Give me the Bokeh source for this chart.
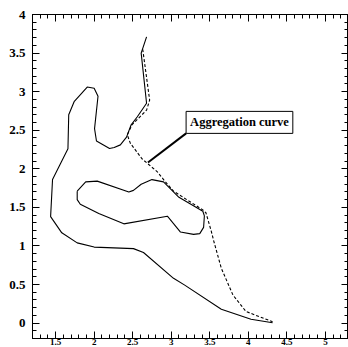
from bokeh.plotting import figure
from bokeh.models import LinearAxis, SingleIntervalTicker, CustomJSTickFormatter, Label, CustomLabelingPolicy
from bokeh.embed import file_html
from bokeh.resources import INLINE

# ---- data ----
outer_x = [2.68, 2.61, 2.68, 2.56, 2.48, 2.42, 2.34, 2.26, 2.20, 2.03, 2.005, 2.05, 2.00, 1.91,
           1.74, 1.67, 1.66, 1.52, 1.46, 1.435, 1.58, 1.78, 2.00, 2.51, 2.64, 3.03, 3.17, 3.65,
           4.035, 4.315]
outer_y = [3.71, 3.50, 2.85, 2.675, 2.57, 2.41, 2.31, 2.276, 2.263, 2.36, 2.52, 2.94, 3.045, 3.06,
           2.87, 2.70, 2.26, 1.98, 1.86, 1.38, 1.17, 1.04, 0.985, 0.965, 0.915, 0.58, 0.495, 0.18,
           0.05, 0.005]

inner_x = [1.78, 1.89, 2.04, 2.45, 2.51, 2.61, 2.75, 2.90, 3.10, 3.41, 3.43, 3.42, 3.37, 3.29,
           3.12, 3.03, 2.95, 2.385, 2.06, 1.82, 1.78, 1.78]
inner_y = [1.71, 1.83, 1.84, 1.70, 1.72, 1.80, 1.86, 1.83, 1.63, 1.45, 1.39, 1.24, 1.16, 1.15,
           1.18, 1.29, 1.385, 1.286, 1.42, 1.54, 1.60, 1.71]

aggr_x = [2.63, 2.72, 2.68, 2.49, 2.43, 2.47, 2.62, 2.82, 2.925, 3.03, 3.42, 3.45, 3.52, 3.55,
          3.65, 3.80, 3.97, 4.315]
aggr_y = [3.55, 2.89, 2.76, 2.57, 2.44, 2.33, 2.13, 1.96, 1.83, 1.71, 1.46, 1.43, 1.19, 1.07,
          0.71, 0.365, 0.15, 0.017]

annot_text = "Aggregation curve"
annot_x = [3.193, 2.698]   # leader line: box corner -> curve
annot_y = [2.459, 2.081]

FONT = "Liberation Serif"

p = figure(width=348, height=347, x_range=(1.2, 5.3), y_range=(-0.2, 4.0),
           output_backend="svg", toolbar_location=None,
           x_axis_location=None, y_axis_location=None,
           min_border_left=32, min_border_right=0, min_border_top=14, min_border_bottom=0)
p.grid.visible = False
p.outline_line_color = "black"
p.background_fill_color = "white"
p.border_fill_color = "white"

fmt = CustomJSTickFormatter(code="return (Math.round(tick*10)/10).toString();")

def make_axis(show_labels, size="13px", standoff=7):
    ax = LinearAxis(ticker=SingleIntervalTicker(interval=0.5, num_minor_ticks=5))
    ax.major_tick_in = 7
    ax.major_tick_out = 0
    ax.minor_tick_in = 4
    ax.minor_tick_out = 0
    ax.axis_line_color = "black"
    ax.major_tick_line_color = "black"
    ax.minor_tick_line_color = "black"
    if show_labels:
        ax.formatter = fmt
        ax.major_label_text_font = FONT
        ax.major_label_text_font_style = "bold"
        ax.major_label_text_font_size = size
        ax.major_label_text_color = "black"
        ax.major_label_standoff = standoff
    else:
        ax.major_label_text_font_size = "0px"
        ax.major_label_standoff = 0
        ax.major_label_policy = CustomLabelingPolicy(code="return [];")
    return ax

p.add_layout(make_axis(True), "left")
p.add_layout(make_axis(False), "right")
p.add_layout(make_axis(False), "above")
p.add_layout(make_axis(True, size="9px", standoff=0), "below")

p.line(outer_x, outer_y, line_color="black", line_width=1.1)
p.line(inner_x, inner_y, line_color="black", line_width=1.1)
p.line(aggr_x, aggr_y, line_color="black", line_width=1.1, line_dash="3 2")

p.line(annot_x, annot_y, line_color="black", line_width=2)
p.add_layout(Label(x=annot_x[0], y=annot_y[0], text=annot_text, anchor="bottom_left",
                   text_font=FONT, text_font_style="bold", text_font_size="12.5px",
                   text_color="black", padding=4,
                   border_line_color="black", border_line_width=1,
                   background_fill_color="white"))

open("out.html", "w").write(file_html(p, INLINE))
